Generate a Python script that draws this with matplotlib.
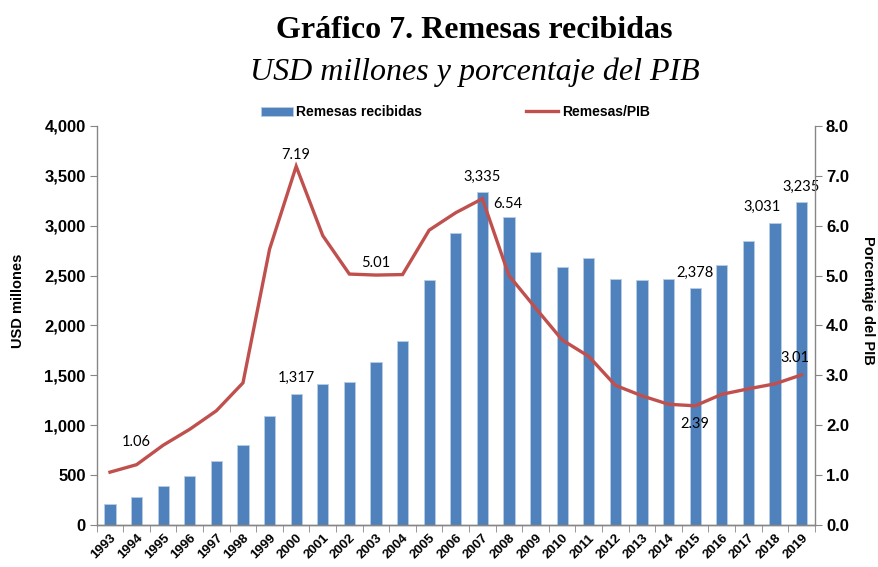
import matplotlib
matplotlib.use("Agg")
import matplotlib.pyplot as plt
import numpy as np

# Remesas recibidas (USD millones) y Remesas/PIB (%)
years = [str(y) for y in range(1993, 2020)]
remesas = [210, 283, 393, 490, 643, 800, 1090, 1317, 1417, 1430, 1633, 1840,
           2457, 2927, 3335, 3083, 2733, 2590, 2673, 2467, 2457, 2467, 2378,
           2603, 2843, 3031, 3235]
pib_pct = [1.06, 1.21, 1.60, 1.92, 2.29, 2.85, 5.53, 7.19, 5.80, 5.03, 5.01,
           5.02, 5.91, 6.26, 6.54, 5.00, 4.35, 3.71, 3.38, 2.80, 2.59, 2.42,
           2.39, 2.62, 2.73, 2.83, 3.01]

# etiquetas de datos: (indice, texto, desplazamiento en puntos)
bar_labels = [(7, "1,317", (0, 11)), (14, "3,335", (0, 11)), (22, "2,378", (0, 11)),
              (25, "3,031", (-9, 11)), (26, "3,235", (0, 11))]
line_labels = [(0, "1.06", (19, 22)), (7, "7.19", (0, 8)), (10, "5.01", (0, 9)),
               (14, "6.54", (18, -4)), (22, "2.39", (0, -13)), (26, "3.01", (-5, 12))]

BLUE = "#4F81BD"
RED = "#C0504D"
GRAY = "#868686"
NARROW = ["Liberation Sans", "DejaVu Sans"]
SERIF = ["Liberation Serif", "DejaVu Serif"]
LABEL = ["Lato", "DejaVu Sans"]

fig = plt.figure(figsize=(8.79, 5.67), dpi=100)
ax = fig.add_axes([0.110, 0.074, 0.817, 0.704])
ax2 = ax.twinx()

x = np.arange(len(years))
bars = ax.bar(x, remesas, width=0.42, color=BLUE, edgecolor="#B9CDE5",
              linewidth=0.6, label="Remesas recibidas", zorder=2)
line, = ax2.plot(x, pib_pct, color=RED, linewidth=2.4, label="Remesas/PIB",
                 solid_joinstyle="miter", zorder=3)

ax.set_xlim(-0.5, len(years) - 0.5)
ax.set_ylim(0, 4000)
ax2.set_ylim(0, 8)
ax.set_yticks(np.arange(0, 4001, 500))
ax.set_yticklabels([f"{v:,}" for v in range(0, 4001, 500)])
ax2.set_yticks(np.arange(0, 8.1, 1))
ax2.set_yticklabels([f"{v:.1f}" for v in np.arange(0, 8.1, 1)])

ax.set_xticks(x)
ax.set_xticklabels(years, rotation=45, ha="right", rotation_mode="anchor")
ax.set_xticks(np.arange(-0.5, len(years), 1), minor=True)
ax.tick_params(axis="x", which="major", length=0, pad=5)
ax.tick_params(axis="x", which="minor", length=5, color=GRAY, direction="out")

for a in (ax, ax2):
    a.spines["top"].set_visible(False)
    for s in ("left", "right", "bottom"):
        a.spines[s].set_color(GRAY)
        a.spines[s].set_linewidth(1.0)
    a.tick_params(axis="y", length=5, color=GRAY, direction="out", pad=3)
ax.spines["right"].set_visible(False)
ax2.spines["left"].set_visible(False)

for lbl in ax.get_xticklabels():
    lbl.set_family(NARROW); lbl.set_fontweight("bold"); lbl.set_fontsize(9.5)
for lbl in ax.get_yticklabels() + ax2.get_yticklabels():
    lbl.set_family(NARROW); lbl.set_fontweight("bold"); lbl.set_fontsize(12)

for i, txt, off in bar_labels:
    ax.annotate(txt, (x[i], remesas[i]), xytext=off, textcoords="offset points",
                ha="center", va="center", fontsize=10.5, family=LABEL, zorder=5)
for i, txt, off in line_labels:
    ax2.annotate(txt, (x[i], pib_pct[i]), xytext=off, textcoords="offset points",
                 ha="center", va="center", fontsize=10.5, family=LABEL, zorder=5)

fig.text(0.54, 0.947, "Gráfico 7. Remesas recibidas", ha="center", va="center",
         fontsize=23, fontweight="bold", family=SERIF)
fig.text(0.54, 0.873, "USD millones y porcentaje del PIB", ha="center", va="center",
         fontsize=23, style="italic", family=SERIF)

fig.text(0.021, 0.47, "USD millones", rotation=90, ha="center", va="center",
         fontsize=10.5, fontweight="bold", family=NARROW)
fig.text(0.988, 0.47, "Porcentaje del PIB", rotation=270, ha="center", va="center",
         fontsize=10.5, fontweight="bold", family=NARROW)

leg = fig.legend([bars, line], ["Remesas recibidas", "Remesas/PIB"],
                 loc="center", bbox_to_anchor=(0.518, 0.802), ncol=2, frameon=False,
                 handlelength=2.3, handleheight=0.7, handletextpad=0.25,
                 columnspacing=7.5, prop={"family": NARROW, "weight": "bold", "size": 10})

fig.savefig("out.png", dpi=100)
